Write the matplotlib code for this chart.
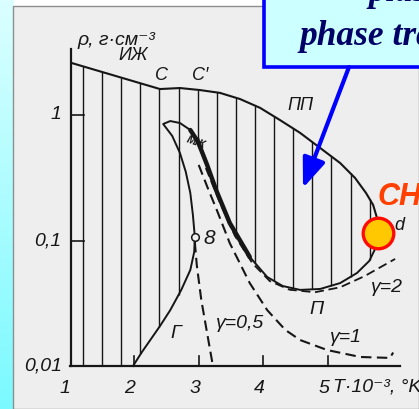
import numpy as np
import matplotlib
matplotlib.use("Agg")
import matplotlib.pyplot as plt
from matplotlib import font_manager
from matplotlib.patches import Rectangle, FancyArrowPatch

W, H = 419, 409
DPI = 100

# liquid branch of the coexistence curve: ИЖ edge, C, C', round to d
liq_T = [1.04, 2.40, 2.71, 3.02, 3.33, 3.64, 3.95, 4.26, 4.57, 4.88,
         5.19, 5.42, 5.59, 5.70, 5.76, 5.78]
liq_rho = [2.59, 1.61, 1.64, 1.58, 1.50, 1.34, 1.14, 0.91, 0.72, 0.546,
           0.414, 0.315, 0.239, 0.192, 0.151, 0.115]

# vapour branch: Г from the T axis, over the МЖ nose, round the ПП loop to d
vap_T = [1.983, 2.12, 2.25, 2.40, 2.56, 2.73, 2.87, 2.93, 2.94,
         2.91, 2.87, 2.80, 2.71, 2.59, 2.45,
         2.56, 2.71, 2.87, 2.99, 3.13, 3.27, 3.48, 3.79,
         4.06, 4.30, 4.57, 4.88, 5.19, 5.45, 5.64, 5.73, 5.78]
vap_rho = [0.01, 0.0129, 0.0161, 0.0208, 0.0279, 0.0404, 0.0582, 0.081, 0.1067,
           0.160, 0.239, 0.352, 0.497, 0.681, 0.848,
           0.895, 0.863, 0.759, 0.610, 0.400, 0.252, 0.138, 0.074,
           0.0512, 0.0434, 0.0404, 0.0411, 0.0458, 0.0551, 0.0687, 0.0855, 0.115]
THICK = slice(17, 23)      # heavy stretch of the МЖ boundary
POINT_B = 8                # point "8" on the vapour branch

# lines of constant gamma
g05_T = [2.94, 2.97, 3.04, 3.13, 3.22]
g05_rho = [0.0972, 0.0638, 0.0336, 0.0183, 0.01]
g1_T = [3.00, 3.14, 3.28, 3.48, 3.79, 4.06, 4.34, 4.57, 4.99, 5.50, 5.96, 6.01]
g1_rho = [0.40, 0.262, 0.175, 0.0955, 0.0458, 0.0279, 0.0194, 0.0161,
          0.0134, 0.0118, 0.0116, 0.0128]
g2_T = [3.11, 3.33, 3.56, 3.83, 4.10, 4.41, 4.80, 5.19, 5.57, 6.04]
g2_rho = [0.378, 0.199, 0.109, 0.066, 0.0475, 0.0405, 0.0387, 0.0424,
          0.0521, 0.0713]

crit_T, crit_rho = 5.78, 0.115

x_ticks = [2, 3, 4, 5]
x_ticklabels = ["2", "3", "4", "5"]
y_ticks = [1, 0.1]
y_ticklabels = ["1", "0,1"]

INK = "#161616"
PAPER = "#eeeeee"

names = {f.name for f in font_manager.fontManager.ttflist}
hand = ["Liberation Sans" if "Liberation Sans" in names else "DejaVu Sans", "DejaVu Sans"]
serif = ["Liberation Serif" if "Liberation Serif" in names else "DejaVu Serif", "DejaVu Serif"]

fig = plt.figure(figsize=(W / DPI, H / DPI), dpi=DPI)
fig.patch.set_facecolor("white")

# cyan strip on the left
strip = fig.add_axes([0, 0, 13 / W, 1], zorder=-3)
grad = np.linspace(0, 1, 256)[:, None]
top_c = np.array([0.86, 1.0, 1.0])
bot_c = np.array([0.48, 0.98, 1.0])
img = top_c + (bot_c - top_c) * grad[:, :, None]
strip.imshow(img, aspect="auto", extent=[0, 1, 0, 1])
strip.axis("off")

# scanned sheet
fig.patches.append(Rectangle((13 / W, 0), 1 - 13 / W, 1 - 6 / H,
                             transform=fig.transFigure, facecolor=PAPER,
                             edgecolor="#8e8e8e", lw=1.0, zorder=-2))

ax = fig.add_axes([0, 0, 1, 1])
ax.patch.set_alpha(0)
ax.set_yscale("log")
ax.set_xlim(-0.0759, 6.410)
ax.set_ylim(10 ** -2.3426, 10 ** 0.9163)
ax.axis("off")

# hatching of the two-phase region
lt_T = np.array(liq_T)
lt_l = np.log10(liq_rho)
vp_T = np.array(vap_T)
vp_l = np.log10(vap_rho)


def lowest_crossing(t):
    hits = []
    for i in range(len(vp_T) - 1):
        a, b = vp_T[i], vp_T[i + 1]
        if a != b and (a - t) * (b - t) <= 0:
            f = (t - a) / (b - a)
            hits.append(vp_l[i] + f * (vp_l[i + 1] - vp_l[i]))
    return 10 ** min(hits) if hits else 0.01


for t in np.arange(1.21, 5.70, 0.2957):
    top = 10 ** np.interp(t, lt_T, lt_l)
    ax.plot([t, t], [lowest_crossing(t), top], color=INK, lw=1.0,
            solid_capstyle="butt", zorder=2)

# axes of the diagram
ax.plot([1.0, 6.12], [0.01, 0.01], color=INK, lw=1.6, zorder=3)
ax.plot([1.03, 1.03], [0.01, 3.36], color=INK, lw=1.6, zorder=3)
for t in x_ticks:
    ax.plot([t, t], [0.01, 0.0120], color=INK, lw=1.2, zorder=3)
for r in y_ticks:
    ax.plot([1.03, 1.22], [r, r], color=INK, lw=1.2, zorder=3)

# phase boundaries
ax.plot(liq_T, liq_rho, color=INK, lw=1.5, zorder=3)
ax.plot(vap_T, vap_rho, color=INK, lw=1.4, zorder=3)
ax.plot(vap_T[THICK], vap_rho[THICK], color=INK, lw=3.2,
        solid_capstyle="round", zorder=3)

dash = (0, (5, 2.6))
ax.plot(g05_T, g05_rho, color=INK, lw=1.5, ls=dash, zorder=3)
ax.plot(g1_T, g1_rho, color=INK, lw=1.5, ls=dash, zorder=3)
ax.plot(g2_T, g2_rho, color=INK, lw=1.3, ls=dash, zorder=3)

ax.plot(vap_T[POINT_B], vap_rho[POINT_B], "o", ms=5.5, mfc=PAPER,
        mec=INK, mew=1.1, zorder=4)

# tick labels
for t, s in zip(x_ticks + [1], x_ticklabels + ["1"]):
    ax.annotate(s, (t, 0.01), xytext=(-3, -16), textcoords="offset points",
                ha="center", va="center", fontsize=14, style="italic",
                family=hand, color=INK)
for r, s in zip(y_ticks + [0.01], y_ticklabels + ["0,01"]):
    ax.annotate(s, (1.03, r), xytext=(-7, 0), textcoords="offset points",
                ha="right", va="center", fontsize=14, style="italic",
                family=hand, color=INK)


def label(x, y, s, size=12, rot=0, ha="center", va="center", **kw):
    fig.text(x / W, 1 - y / H, s, ha=ha, va=va, fontsize=size, rotation=rot,
             style="italic", family=hand, color=INK, **kw)


label(77, 45, "ρ, г·см⁻³", size=14, ha="left", va="baseline")
label(133, 56, "ИЖ", size=13)
label(161, 76, "C", size=13)
label(200, 75, "C′", size=13)
label(300, 105, "ПП", size=13)
label(196, 143, "МЖ", size=8, rot=-20, weight="bold")
label(209, 239, "8", size=15)
label(399, 225, "d", size=13)
label(176, 334, "Г", size=14)
label(240, 324, "γ=0,5", size=14)
label(316, 310, "П", size=14)
label(346, 337, "γ=1", size=14)
label(387, 288, "γ=2", size=14)
label(333, 387, "T·10⁻³, °K", size=14, ha="left")

# critical point of the plasma transition
ax.plot(crit_T, crit_rho, "o", ms=22, mfc="#ffc800", mec="#ff0a00",
        mew=2.4, zorder=6)
fig.text(378 / W, 1 - 205 / H, "CH", fontsize=22, weight="bold",
         style="italic", family=hand, color="#ff4000", zorder=7)

# callout box with arrow
fig.patches.append(Rectangle((264 / W, 1 - 67 / H), 0.5, 0.3,
                             transform=fig.transFigure, facecolor="#ccffff",
                             edgecolor="#0000ff", lw=2.6, zorder=5))
fig.text(368 / W, 1 - 1 / H, "plasma", fontsize=25, weight="bold",
         style="italic", family=serif, color="#000066", zorder=6)
fig.text(300 / W, 1 - 45 / H, "phase transition", fontsize=25.5,
         weight="bold", style="italic", family=serif, color="#000066",
         zorder=6)
fig.patches.append(FancyArrowPatch((349 / W, 1 - 67 / H), (303 / W, 1 - 188 / H),
                                   transform=fig.transFigure,
                                   arrowstyle="-|>,head_length=0.9,head_width=0.35",
                                   mutation_scale=20, color="#0000ff", lw=3,
                                   shrinkA=0, shrinkB=0, zorder=5))

fig.savefig("out.png", dpi=DPI)
